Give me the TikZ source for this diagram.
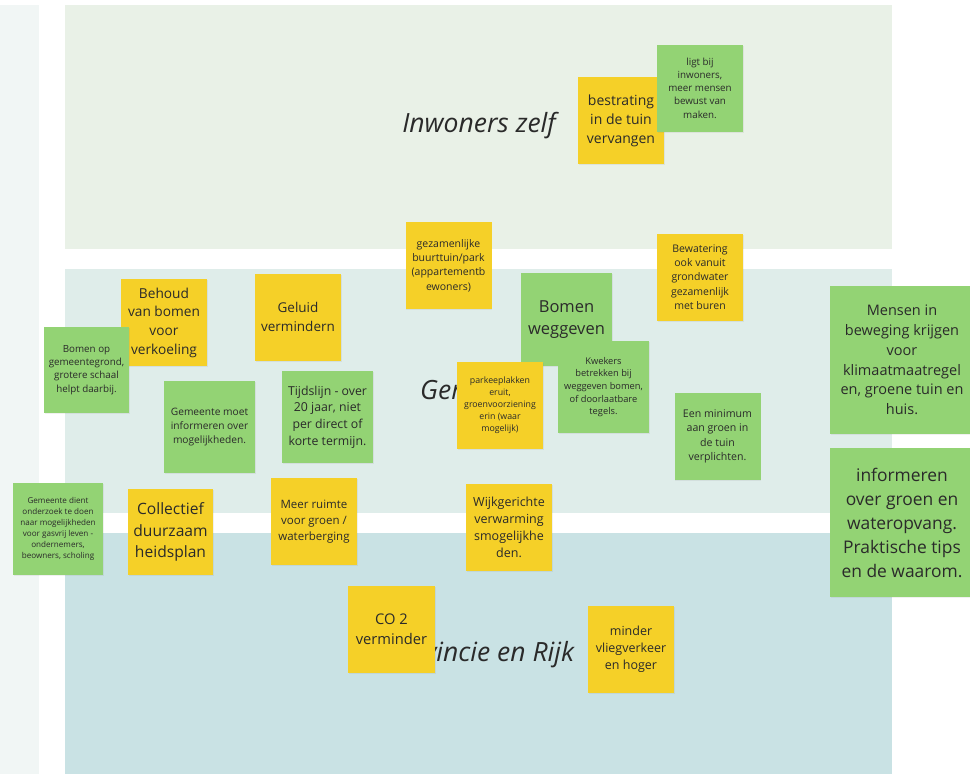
\documentclass[tikz,border=0pt]{standalone}
\usepackage{fontspec}
\setmainfont{Open Sans}
\usepackage{tikz}
\usetikzlibrary{shadows}
\definecolor{strook}{HTML}{F1F6F5}
\definecolor{bandA}{HTML}{E9F1E7}
\definecolor{bandB}{HTML}{DFEDEA}
\definecolor{bandC}{HTML}{C9E2E4}
\definecolor{geel}{HTML}{F5D028}
\definecolor{groen}{HTML}{93D374}
\definecolor{inkt}{HTML}{2A2A2A}
\newcommand{\notesize}[2]{\fontsize{#1}{#2}\selectfont}

\begin{document}
\begin{tikzpicture}[x=1pt,y=-1pt,
	note/.style={rectangle,inner sep=0pt,align=center,text=inkt,
		minimum width=86pt,minimum height=87pt,
		drop shadow={opacity=0.12,shadow xshift=0.8pt,shadow yshift=-1.2pt}},
	yellownote/.style={note,fill=geel},
	greennote/.style={note,fill=groen},
	bandlabel/.style={text=inkt,font=\itshape\notesize{26.5}{30}}]
	\useasboundingbox (0,0) rectangle (970,774);
	\fill[strook] (0,5) rectangle (39,774);
	\fill[bandA] (65,5) rectangle (892,249);
	\fill[bandB] (65,269) rectangle (892,513);
	\fill[bandC] (65,533) rectangle (892,774);

	\node[bandlabel] at (479,126) (inwoners) {Inwoners zelf};
	\node[bandlabel] at (479,390) (gemeente) {Gemeente};
	\node[bandlabel] at (479,655) (provincie) {Provincie en Rijk};

	\node[yellownote,font=\notesize{14}{19}] at (621,120.5) (bestrating) {bestrating\\in de tuin\\vervangen};
	\node[greennote,font=\notesize{9.8}{13.3}] at (700,88) (ligtbij) {ligt bij\\inwoners,\\meer mensen\\bewust van\\maken.};

	\node[yellownote,font=\notesize{10.5}{14.3}] at (448.5,265.5) (buurttuin) {gezamenlijke\\buurttuin/park\\(appartementb\\ewoners)};
	\node[yellownote,font=\notesize{10.5}{14.3}] at (700,277) (bewatering) {Bewatering\\ook vanuit\\grondwater\\gezamenlijk\\met buren};
	\node[greennote,minimum width=91pt,minimum height=93pt,font=\notesize{16.5}{22.5}] at (566.5,319.5) (bomenweg) {Bomen\\weggeven};
	\node[greennote,minimum width=91pt,minimum height=92pt,font=\notesize{9.3}{12.6}] at (603.5,387) (kwekers) {Kwekers\\betrekken bij\\weggeven bomen,\\of doorlaatbare\\tegels.};
	\node[yellownote,font=\notesize{8.8}{12}] at (500,405.5) (parkeer) {parkeeplakken\\eruit,\\groenvoorziening\\erin (waar\\mogelijk)};
	\node[greennote,font=\notesize{10.6}{14.5}] at (717.5,436.5) (minimum) {Een minimum\\aan groen in\\de tuin\\verplichten.};
	\node[yellownote,font=\notesize{12.5}{17}] at (509,527) (wijk) {Wijkgerichte\\verwarming\\smogelijkhe\\den.};

	\node[yellownote,font=\notesize{13.7}{18.7}] at (164,322.5) (behoud) {Behoud\\van bomen\\voor\\verkoeling};
	\node[yellownote,font=\notesize{13.5}{18.7}] at (298,317) (geluid) {Geluid\\vermindern};
	\node[greennote,minimum width=85pt,minimum height=86pt,font=\notesize{9.8}{13.3}] at (86.5,370) (bomenop) {Bomen op\\gemeentegrond,\\grotere schaal\\helpt daarbij.};
	\node[greennote,minimum width=91pt,minimum height=92pt,font=\notesize{10.2}{14}] at (209.5,427) (informeer) {Gemeente moet\\informeren over\\mogelijkheden.};
	\node[greennote,minimum width=91pt,minimum height=92pt,font=\notesize{12.3}{16.8}] at (327.5,417) (tijdslijn) {Tijdslijn - over\\20 jaar, niet\\per direct of\\korte termijn.};
	\node[greennote,minimum width=90pt,minimum height=92pt,font=\notesize{8.1}{11}] at (58,529) (gasvrij) {Gemeente dient\\onderzoek te doen\\naar mogelijkheden\\voor gasvrij leven -\\ondernemers,\\beowners, scholing};
	\node[yellownote,minimum width=85pt,minimum height=86pt,font=\notesize{15.6}{21.2}] at (170.5,532) (collectief) {Collectief\\duurzaam\\heidsplan};
	\node[yellownote,font=\notesize{11.5}{15.7}] at (314,521.5) (ruimte) {Meer ruimte\\voor groen /\\waterberging};

	\node[yellownote,minimum width=87pt,font=\notesize{14.7}{20}] at (391.5,629.5) (co2) {CO 2\\verminder};
	\node[yellownote,font=\notesize{12.5}{17}] at (631,649.5) (vliegen) {minder\\vliegverkeer\\en hoger};

	\node[greennote,minimum width=144pt,minimum height=148pt,font=\notesize{14.5}{19.7}] at (902,360) (mensen) {Mensen in\\beweging krijgen\\voor\\klimaatmaatregel\\en, groene tuin en\\huis.};
	\node[greennote,minimum width=144pt,minimum height=149pt,font=\notesize{17.4}{24}] at (902,522.5) (tips) {informeren\\over groen en\\wateropvang.\\Praktische tips\\en de waarom.};
\end{tikzpicture}
\end{document}
